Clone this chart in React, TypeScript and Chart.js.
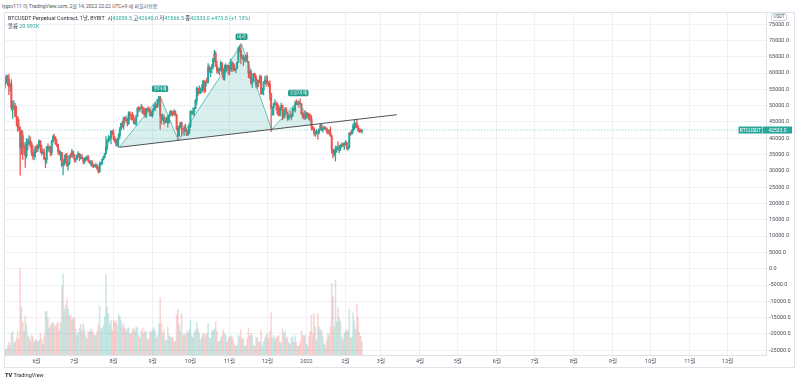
import React, { useEffect, useRef } from "react";
import { Chart, registerables } from "chart.js";

Chart.register(...registerables);

// Days are counted from 2021-06-01 (day 0). First candle: 2021-05-06.
const FIRST_DAY = -26;
const FIRST_OPEN = 57.4; // thousands USDT

// Daily closes (thousands USDT), 2021-05-06 .. 2022-02-14
const closes = [
  // May 6-31
  56.4, 57.3, 58.8, 58.2, 55.8, 56.7, 49.4, 49.7, 49.9, 46.8, 46.4, 43.6, 42.9, 37.0, 40.8, 37.3, 37.5, 34.7, 38.8, 38.3, 39.3, 38.5, 35.7, 34.6, 35.7, 37.3,
  // June
  36.7, 37.6, 39.2, 36.9, 35.5, 35.8, 33.6, 33.4, 37.4, 36.7, 37.3, 35.6, 39.1, 40.5, 40.1, 38.3, 38.1, 35.8, 35.5, 35.6, 31.7, 32.5, 33.7, 34.7, 31.6, 32.2, 34.7, 34.5, 35.9, 35.0,
  // July
  33.6, 33.8, 34.7, 35.3, 33.9, 34.2, 33.9, 32.9, 33.8, 33.5, 34.3, 33.1, 32.7, 32.8, 31.8, 31.4, 31.5, 31.8, 30.8, 29.8, 32.1, 32.3, 33.6, 34.3, 35.4, 37.3, 39.4, 40.0, 40.0, 42.2, 41.5,
  // August
  39.9, 39.2, 38.1, 39.7, 40.9, 42.8, 44.6, 43.8, 46.3, 45.6, 45.6, 44.4, 47.8, 47.1, 47.0, 46.0, 44.7, 44.7, 46.8, 49.3, 48.9, 49.3, 49.5, 47.7, 48.9, 47.0, 49.1, 48.9, 48.8, 47.0, 47.2,
  // September
  48.8, 49.3, 50.0, 49.9, 51.8, 52.7, 46.9, 46.1, 46.4, 44.9, 45.2, 46.1, 44.9, 47.1, 48.2, 47.8, 47.3, 48.3, 47.3, 43.0, 40.7, 43.6, 44.9, 42.8, 42.7, 43.2, 42.2, 41.0, 41.5, 43.8,
  // October
  48.1, 47.7, 48.2, 49.2, 51.5, 55.3, 53.8, 53.9, 55.0, 54.7, 57.5, 56.0, 57.4, 57.3, 61.7, 60.9, 61.5, 62.0, 64.3, 66.0, 62.2, 60.7, 61.3, 60.9, 63.1, 60.3, 58.5, 60.6, 62.3, 61.9, 61.3,
  // November
  61.0, 63.2, 62.9, 61.4, 61.0, 61.5, 63.3, 67.6, 66.9, 64.9, 64.9, 64.2, 64.4, 65.5, 63.6, 60.1, 60.4, 56.9, 58.1, 59.8, 58.7, 56.3, 57.6, 57.2, 58.9, 53.6, 54.8, 57.3, 57.8, 57.0,
  // December
  57.2, 56.5, 53.6, 49.2, 49.4, 50.6, 50.6, 50.5, 47.6, 47.1, 49.3, 50.1, 46.7, 48.4, 48.9, 47.7, 46.2, 46.9, 46.7, 46.9, 49.0, 48.6, 50.8, 50.4, 50.8, 50.7, 50.6, 47.6, 46.5, 47.1, 46.2,
  // January 2022
  47.7, 47.3, 46.4, 45.8, 43.4, 43.1, 41.6, 41.8, 41.9, 41.8, 42.7, 43.9, 42.6, 43.1, 43.2, 43.1, 42.2, 42.4, 41.7, 40.7, 36.5, 35.1, 36.3, 36.7, 36.9, 36.8, 37.2, 37.7, 38.2, 37.9, 38.5,
  // February 1-14
  38.7, 36.9, 37.3, 41.6, 41.4, 42.4, 43.8, 44.1, 44.4, 43.6, 42.4, 42.2, 42.0595, 42.533,
];

const highs = [
  58.4, 58.6, 59.5, 59.3, 59.6, 56.9, 58.0, 51.4, 51.6, 50.7, 49.8, 46.6, 45.8, 43.5, 42.5, 42.2, 38.8, 38.3, 39.9, 39.8, 40.8, 40.4, 38.9, 37.9, 36.4, 37.5,
  37.9, 38.2, 39.5, 39.3, 37.9, 36.5, 36.8, 34.1, 37.5, 38.4, 37.7, 37.4, 39.4, 41.0, 41.3, 40.5, 39.6, 38.2, 36.5, 36.1, 35.7, 33.3, 34.9, 35.3, 35.5, 32.7, 34.7, 35.3, 36.6, 36.1,
  35.0, 33.9, 34.9, 35.9, 35.3, 35.1, 35.0, 33.9, 34.1, 34.3, 34.6, 34.7, 33.3, 33.1, 33.2, 32.2, 31.9, 32.4, 31.9, 31.1, 32.8, 32.6, 33.6, 34.5, 35.4, 40.5, 39.5, 40.9, 40.6, 42.3, 42.4,
  42.6, 40.5, 39.8, 39.9, 41.4, 43.4, 44.7, 45.3, 46.4, 46.7, 46.8, 46.2, 48.1, 48.2, 47.4, 48.0, 47.2, 46.0, 47.0, 49.4, 49.8, 49.5, 50.5, 49.9, 49.3, 49.3, 49.2, 49.4, 49.7, 48.9, 48.2,
  49.0, 50.4, 51.0, 50.6, 51.9, 52.9, 52.9, 47.4, 47.4, 47.1, 45.9, 46.5, 46.9, 47.3, 48.5, 48.5, 48.2, 48.8, 48.4, 47.3, 43.6, 44.0, 44.9, 45.0, 42.9, 43.9, 44.4, 42.8, 42.6, 44.1,
  48.5, 48.4, 49.3, 49.5, 51.9, 55.8, 55.4, 56.1, 55.5, 56.5, 57.8, 57.7, 57.6, 58.5, 62.9, 62.3, 61.7, 62.7, 64.5, 67.0, 66.6, 63.7, 61.7, 61.5, 63.7, 63.3, 61.5, 62.5, 62.9, 62.4, 62.4,
  62.4, 64.3, 63.5, 63.1, 62.6, 61.6, 63.3, 68.0, 68.5, 69.0, 65.6, 65.5, 65.0, 65.5, 66.4, 63.6, 61.0, 60.9, 58.4, 59.9, 60.0, 59.3, 58.0, 57.8, 59.4, 59.2, 55.3, 57.4, 58.9, 59.2,
  59.1, 57.4, 57.6, 53.9, 49.7, 50.9, 51.9, 51.2, 50.8, 50.1, 49.5, 50.8, 50.2, 48.7, 49.5, 49.4, 48.0, 47.3, 48.3, 47.5, 49.3, 49.6, 51.4, 51.8, 51.2, 51.3, 52.1, 50.7, 48.2, 47.9, 48.5,
  47.9, 47.9, 47.5, 47.5, 47.0, 43.7, 43.2, 42.3, 42.8, 42.2, 43.0, 44.3, 44.4, 43.4, 43.8, 43.5, 43.2, 42.7, 42.6, 43.5, 41.1, 36.8, 36.5, 37.6, 37.6, 38.9, 37.9, 38.0, 38.7, 38.4, 38.7,
  39.3, 38.9, 37.4, 41.8, 41.9, 42.7, 44.5, 45.5, 44.8, 45.8, 43.9, 43.0, 42.8, 42.64,
];

const lows = [
  55.2, 55.4, 56.9, 56.2, 53.4, 54.4, 48.6, 46.0, 48.8, 46.6, 43.8, 42.1, 42.3, 28.7, 35.0, 33.5, 35.2, 31.1, 34.0, 36.4, 37.8, 37.2, 34.7, 33.6, 33.4, 34.2,
  35.7, 35.9, 37.2, 35.6, 34.8, 35.3, 33.4, 31.0, 32.4, 35.8, 35.9, 34.6, 34.8, 38.7, 39.5, 38.1, 37.4, 35.1, 34.8, 33.3, 31.3, 28.8, 31.7, 32.3, 31.3, 30.2, 32.0, 33.9, 34.2, 34.0,
  32.7, 32.7, 33.4, 34.3, 33.1, 33.6, 33.8, 32.1, 32.3, 33.0, 33.3, 32.7, 32.2, 31.6, 31.2, 31.0, 31.2, 31.1, 30.4, 29.3, 29.5, 31.7, 32.0, 33.4, 33.9, 35.2, 36.4, 38.8, 39.2, 38.3, 41.1,
  39.4, 38.7, 37.6, 37.5, 37.3, 39.9, 42.5, 43.3, 42.8, 44.7, 45.4, 43.8, 44.3, 45.9, 45.6, 45.6, 44.4, 44.2, 43.9, 46.7, 48.3, 48.1, 49.0, 47.6, 47.2, 46.4, 46.4, 48.4, 48.0, 46.9, 46.7,
  46.5, 48.6, 48.4, 49.4, 49.5, 50.9, 42.8, 44.4, 45.5, 44.2, 44.8, 44.8, 43.4, 44.6, 46.8, 47.1, 46.8, 47.1, 46.9, 42.5, 39.6, 40.6, 43.2, 40.7, 41.7, 40.8, 42.1, 40.9, 40.8, 41.4,
  43.3, 47.4, 47.1, 46.9, 49.1, 50.4, 53.1, 53.7, 53.7, 54.1, 54.4, 53.9, 54.3, 56.8, 56.9, 60.2, 58.9, 60.1, 61.3, 63.5, 62.0, 60.0, 59.8, 59.5, 60.7, 59.8, 58.0, 57.8, 60.2, 60.7, 59.6,
  59.4, 60.6, 60.4, 60.7, 60.7, 60.1, 61.3, 63.3, 66.4, 62.8, 64.1, 62.3, 63.4, 63.6, 63.4, 58.6, 58.4, 56.5, 55.6, 57.4, 58.5, 55.6, 55.3, 55.8, 57.0, 53.5, 53.6, 53.3, 56.7, 55.9,
  56.5, 55.8, 51.7, 42.0, 47.1, 47.1, 50.1, 48.6, 47.3, 46.9, 46.8, 48.6, 45.7, 46.0, 46.5, 47.5, 45.5, 45.6, 46.4, 45.6, 46.6, 48.4, 48.0, 50.4, 50.2, 49.5, 50.5, 47.3, 46.1, 45.9, 45.7,
  46.2, 46.7, 45.7, 45.5, 42.5, 42.5, 40.9, 40.6, 41.2, 39.7, 41.3, 42.5, 42.3, 41.9, 42.6, 42.7, 41.6, 41.3, 41.2, 40.6, 35.5, 34.0, 34.6, 33.0, 35.7, 36.2, 35.5, 36.2, 37.3, 37.4, 36.6,
  38.0, 36.6, 36.3, 37.0, 40.9, 41.1, 41.7, 42.7, 43.2, 43.2, 42.0, 41.8, 41.9, 41.5665,
];

// Daily volume (thousands)
const volumes = [
  17, 15, 13, 20, 30, 22, 50, 55, 28, 30, 40, 55, 35, 200, 110, 75, 55, 90, 70, 45, 40, 33, 45, 42, 30, 35,
  35, 30, 33, 50, 38, 25, 45, 100, 100, 85, 62, 70, 72, 75, 70, 65, 72, 75, 55, 75, 160, 187, 105, 115, 129, 107, 90, 92, 80, 85,
  85, 60, 45, 52, 62, 70, 55, 72, 58, 45, 38, 55, 52, 60, 55, 52, 45, 45, 55, 70, 112, 58, 62, 68, 88, 186, 110, 95, 70, 80, 55,
  80, 75, 78, 70, 95, 88, 80, 68, 72, 62, 55, 60, 62, 48, 50, 58, 62, 55, 65, 62, 45, 38, 55, 62, 50, 55, 52, 35, 38, 55, 52,
  58, 63, 55, 40, 45, 72, 132, 73, 50, 58, 35, 33, 65, 45, 42, 40, 40, 30, 32, 92, 105, 70, 55, 95, 45, 50, 45, 55, 50, 58,
  80, 45, 40, 52, 58, 75, 60, 50, 35, 42, 50, 48, 45, 50, 73, 40, 38, 55, 57, 60, 77, 55, 30, 32, 40, 45, 58, 50, 45, 30, 38,
  42, 45, 42, 35, 25, 20, 22, 45, 42, 58, 35, 40, 22, 20, 38, 62, 45, 50, 45, 22, 20, 40, 40, 30, 30, 58, 20, 30, 40, 45,
  50, 38, 55, 97, 38, 45, 35, 40, 42, 45, 30, 28, 60, 50, 55, 38, 42, 28, 25, 40, 42, 30, 45, 30, 20, 22, 30, 55, 45, 45, 45,
  25, 20, 42, 55, 92, 48, 95, 65, 35, 95, 65, 58, 58, 42, 25, 22, 35, 50, 45, 65, 165, 134, 65, 172, 77, 109, 86, 77, 42, 35, 50,
  55, 58, 55, 105, 40, 40, 97, 78, 60, 118, 86, 52, 43, 29.992,
];

const monthTickDays = [0, 30, 61, 92, 122, 153, 183, 214, 245, 273, 304, 334, 365, 395, 426, 457, 487, 518, 548];
const monthLabels = ["6월", "7월", "8월", "9월", "10월", "11월", "12월", "2022", "2월", "3월", "4월", "5월", "6월", "7월", "8월", "9월", "10월", "11월", "12월"];
const priceTicks = [-25, -20, -15, -10, -5, 0, 5, 10, 15, 20, 25, 30, 35, 40, 45, 50, 55, 60, 65, 70, 75];

// Head & shoulders drawing
const patternDays = [65.6, 97.9, 112.4, 162.5, 186.4, 207.5, 218.2];
const patternPrices = [37.24, 52.95, 39.37, 68.9, 42.73, 51.66, 44.18];
const patternLabels = ["", "왼어깨", "", "머리", "", "오른어깨", ""];
const neckDays = [65.6, 285.6];
const neckPrices = [37.24, 47.24];

const X_MIN = -25.85;
const X_MAX = 578.4;
const Y_MIN = -26.47;
const Y_MAX = 78.74;
const VOL_MAX = 790;

const UP = "#26a69a";
const DOWN = "#ef5350";
const FONT = 'Roboto, "Noto Sans CJK KR", sans-serif';

const opens = closes.map((c, i) => (i === 0 ? FIRST_OPEN : closes[i - 1]));
const days = closes.map((_, i) => FIRST_DAY + i);
const isUp = closes.map((c, i) => c >= opens[i]);
const last = closes.length - 1;
const fmt = (v: number) => (Math.round(v * 10000) / 10).toFixed(1);
const lastClose = closes[last];
const change = Math.round((lastClose - opens[last]) * 10000) / 10;
const changePct = ((lastClose - opens[last]) / opens[last]) * 100;

const labelPlugin = {
  id: "hsLabels",
  afterDatasetsDraw(chart: any) {
    const { ctx, scales } = chart;
    const x = scales.x, y = scales.y;
    ctx.save();
    ctx.font = `4.6px ${FONT}`;
    patternLabels.forEach((t, i) => {
      if (!t) return;
      const px = x.getPixelForValue(patternDays[i]);
      const py = y.getPixelForValue(patternPrices[i]);
      const w = ctx.measureText(t).width + 3.5;
      const h = 6.6;
      const bx = px - w / 2;
      const by = py - 4 - h;
      ctx.fillStyle = "#1f9d8b";
      ctx.beginPath();
      if (ctx.roundRect) ctx.roundRect(bx, by, w, h, 1.5);
      else ctx.rect(bx, by, w, h);
      ctx.fill();
      ctx.fillStyle = "#ffffff";
      ctx.textAlign = "center";
      ctx.textBaseline = "middle";
      ctx.fillText(t, px, by + h / 2 + 0.3);
    });
    ctx.restore();
  },
};

const priceLabelPlugin = {
  id: "priceLabel",
  afterDraw(chart: any) {
    const { ctx, scales, chartArea } = chart;
    const py = scales.y.getPixelForValue(lastClose);
    const h = 7;
    ctx.save();
    ctx.font = `5px ${FONT}`;
    ctx.textBaseline = "middle";
    ctx.textAlign = "center";
    const sx0 = chartArea.right - 27.5, sx1 = chartArea.right - 3.5;
    ctx.fillStyle = UP;
    ctx.fillRect(sx0, py - h / 2, sx1 - sx0, h);
    ctx.fillStyle = "#fff";
    ctx.fillText("BTCUSDT", (sx0 + sx1) / 2, py + 0.3);
    const px0 = chartArea.right - 3, px1 = chartArea.right + 26;
    ctx.fillStyle = UP;
    ctx.fillRect(px0, py - h / 2, px1 - px0, h);
    ctx.fillStyle = "#fff";
    ctx.fillText(fmt(lastClose), (px0 + px1) / 2, py + 0.3);
    ctx.restore();
  },
};

const small = (scale: number): React.CSSProperties => ({
  fontSize: 10,
  lineHeight: "12px",
  transform: `scale(${scale})`,
  transformOrigin: "0 0",
  whiteSpace: "nowrap",
});

export default function App() {
  const ref = useRef<HTMLCanvasElement | null>(null);

  useEffect(() => {
    if (!ref.current) return;
    const datasets: any[] = [
      {
        type: "line",
        data: neckDays.map((d, i) => ({ x: d, y: neckPrices[i] })),
        borderColor: "#3d3f45",
        borderWidth: 0.9,
        pointRadius: 0,
        fill: false,
        order: 0,
      },
      {
        type: "line",
        data: patternDays.map((d, i) => ({ x: d, y: patternPrices[i] })),
        borderColor: "rgba(38,166,154,0.85)",
        borderWidth: 0.8,
        backgroundColor: "rgba(38,166,154,0.18)",
        fill: "-1",
        pointRadius: 0,
        tension: 0,
        order: 1,
      },
      {
        type: "line",
        data: [
          { x: X_MIN, y: lastClose },
          { x: X_MAX, y: lastClose },
        ],
        borderColor: "rgba(38,166,154,0.5)",
        borderWidth: 0.8,
        borderDash: [1.5, 1.5],
        pointRadius: 0,
        fill: false,
        order: 2,
      },
      {
        type: "bar",
        data: days.map((d, i) => ({ x: d, y: [opens[i], closes[i]] })),
        backgroundColor: isUp.map((u) => (u ? UP : DOWN)),
        barThickness: 1.3,
        grouped: false,
        minBarLength: 0.6,
        order: 3,
      },
      {
        type: "bar",
        data: days.map((d, i) => ({ x: d, y: [lows[i], highs[i]] })),
        backgroundColor: isUp.map((u) => (u ? UP : DOWN)),
        barThickness: 0.6,
        grouped: false,
        order: 4,
      },
      {
        type: "bar",
        yAxisID: "yv",
        data: days.map((d, i) => ({ x: d, y: volumes[i] })),
        backgroundColor: isUp.map((u) => (u ? "rgba(38,166,154,0.25)" : "rgba(239,83,80,0.25)")),
        barThickness: 0.9,
        grouped: false,
        order: 5,
      },
    ];

    const chart = new Chart(ref.current, {
      type: "bar",
      data: { datasets },
      options: {
        animation: false,
        responsive: false,
        maintainAspectRatio: false,
        layout: { padding: 0 },
        plugins: { legend: { display: false }, tooltip: { enabled: false } },
        scales: {
          x: {
            type: "linear",
            min: X_MIN,
            max: X_MAX,
            offset: false,
            afterBuildTicks: (s: any) => {
              s.ticks = monthTickDays.map((v) => ({ value: v }));
            },
            afterFit: (s: any) => {
              s.height = 13;
              s.paddingLeft = 0;
              s.paddingRight = 0;
            },
            ticks: {
              autoSkip: false,
              maxRotation: 0,
              padding: 3,
              color: "#4b4f5a",
              font: { family: FONT, size: 5.5 },
              callback: (_v: any, i: number) => monthLabels[i],
            },
            grid: { color: "#eff1f5", drawTicks: false, offset: false },
            border: { display: true, color: "#dfe2e8" },
          },
          y: {
            type: "linear",
            position: "right",
            min: Y_MIN,
            max: Y_MAX,
            afterBuildTicks: (s: any) => {
              s.ticks = priceTicks.map((v) => ({ value: v }));
            },
            afterFit: (s: any) => {
              s.width = 29;
              s.paddingTop = 0;
              s.paddingBottom = 0;
            },
            ticks: {
              padding: 3,
              color: "#4b4f5a",
              font: { family: FONT, size: 5.5 },
              callback: (v: any) => (Number(v) * 1000).toFixed(1),
            },
            grid: { color: "#eff1f5", drawTicks: false },
            border: { display: true, color: "#dfe2e8" },
          },
          yv: {
            type: "linear",
            display: false,
            min: 0,
            max: VOL_MAX,
          },
        },
      } as any,
      plugins: [labelPlugin, priceLabelPlugin],
    } as any);
    return () => chart.destroy();
  }, []);

  const teal = { color: UP };
  return (
    <div
      style={{
        position: "absolute",
        left: 0,
        top: 0,
        width: 800,
        height: 383,
        background: "#ffffff",
        overflow: "hidden",
        fontFamily: FONT,
      }}
    >
      <div style={{ position: "absolute", left: 2, top: 3, color: "#50535e", ...small(0.5) }}>
        lygsv111 이 TradingView.com, 2월 14, 2022 22:22 UTC+9 에 퍼블리쉬함
      </div>
      <canvas ref={ref} width={791} height={356} style={{ position: "absolute", left: 4, top: 12, width: 791, height: 356 }} />
      <div
        style={{
          position: "absolute",
          left: 4,
          top: 12,
          width: 791,
          height: 356,
          boxSizing: "border-box",
          border: "1px solid #e0e3eb",
          pointerEvents: "none",
        }}
      />
      <div style={{ position: "absolute", left: 8, top: 14.5, color: "#2a2e39", ...small(0.54) }}>
        BTCUSDT Perpetual Contract, 1날, BYBIT&nbsp; 시<span style={teal}>{fmt(opens[last])}</span> 고
        <span style={teal}>{fmt(highs[last])}</span> 저<span style={teal}>{fmt(lows[last])}</span> 종
        <span style={teal}>{fmt(lastClose)}</span>{" "}
        <span style={teal}>
          +{change.toFixed(1)} (+{changePct.toFixed(2)}%)
        </span>
      </div>
      <div style={{ position: "absolute", left: 8, top: 22.5, color: "#2a2e39", ...small(0.54) }}>
        볼륨 <span style={teal}>{volumes[last].toFixed(3)}K</span>
      </div>
      <div
        style={{
          position: "absolute",
          left: 771,
          top: 13,
          height: 6,
          padding: "0 1.5px",
          border: "0.8px solid #d1d4dc",
          borderRadius: 2,
          fontSize: 4.5,
          lineHeight: "6px",
          color: "#50535e",
          background: "#fff",
        }}
      >
        USDT
      </div>
      <div style={{ position: "absolute", left: 5, top: 372, color: "#2a2e39", ...small(0.55) }}>
        <b style={{ fontWeight: 900 }}>TV</b> TradingView
      </div>
    </div>
  );
}
